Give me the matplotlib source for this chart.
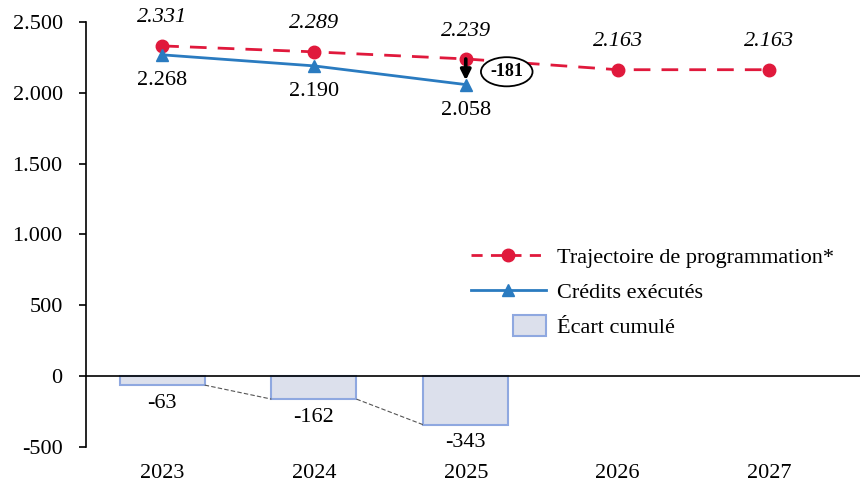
import numpy as np
import matplotlib.pyplot as plt
from matplotlib.ticker import FuncFormatter
from matplotlib.patches import Patch, Rectangle
from matplotlib.lines import Line2D
from matplotlib.legend_handler import HandlerPatch

plt.rcParams['font.family'] = ['Liberation Serif', 'DejaVu Serif']

years = ['2023', '2024', '2025', '2026', '2027']
trajectoire = [2331, 2289, 2239, 2163, 2163]
credits = [2268, 2190, 2058]
ecart = [-63, -162, -343]

RED = '#E0193C'
BLUE = '#2A7BC0'
FS = 16

def fmt(v):
    return f"{v:,.0f}".replace(',', '.')

def square_patch(legend, orig_handle, xdescent, ydescent, width, height, fontsize):
    # small box sitting at the right end of the handle area
    h = height * 1.35
    return Rectangle((width * 0.56 - xdescent, -ydescent - (h - height) / 2), width * 0.44, h)

fig = plt.figure(figsize=(8.63, 4.88), dpi=100)
ax = fig.add_axes([0.1, 0.084, 0.897, 0.871])

x = np.arange(len(years))
xb = x[:len(ecart)]
w = 0.56

ax.bar(xb, ecart, width=w, color='#DCE0EC', edgecolor='#8FA8E0', linewidth=1.5, zorder=2)
for i in range(len(ecart) - 1):
    ax.plot([xb[i] + w / 2, xb[i + 1] - w / 2], [ecart[i], ecart[i + 1]],
            color='#555555', ls=(0, (4, 2)), lw=0.8, zorder=2)
for xi, v in zip(xb, ecart):
    ax.text(xi, v - 60, fmt(v), ha='center', va='top', fontsize=FS)

ax.axhline(0, color='black', lw=1.2, zorder=3)

ax.plot(x, trajectoire, color=RED, ls=(0, (6, 4)), lw=2, marker='o', ms=9, zorder=4)
ax.plot(x[:len(credits)], credits, color=BLUE, lw=2, marker='^', ms=8, zorder=4)

for xi, v in zip(x, trajectoire):
    ax.text(xi, v + 130, fmt(v), ha='center', va='bottom', fontsize=FS, style='italic')
for xi, v in zip(x[:len(credits)], credits):
    ax.text(xi, v - 115, fmt(v), ha='center', va='top', fontsize=FS)

# gap between trajectory and executed credits for the last year
k = len(credits) - 1
ax.annotate('', xy=(x[k], credits[k] + 30), xytext=(x[k], trajectoire[k]),
            arrowprops=dict(arrowstyle='-|>', color='black', lw=2.6, mutation_scale=15,
                            shrinkA=0, shrinkB=0), zorder=5)
ax.text(x[k] + 0.27, (trajectoire[k] + credits[k]) / 2, fmt(credits[k] - trajectoire[k]),
        ha='center', va='center', fontsize=13, fontweight='bold', zorder=6,
        bbox=dict(boxstyle='ellipse,pad=0.1', fc='white', ec='black', lw=1.3))

ax.set_xlim(-0.5, 4.6)
ax.set_ylim(-500, 2500)
ax.set_yticks(range(-500, 2501, 500))
ax.yaxis.set_major_formatter(FuncFormatter(lambda v, p: fmt(v)))
ax.set_xticks(x)
ax.set_xticklabels(years)
ax.tick_params(axis='x', length=0, pad=12, labelsize=FS)
ax.tick_params(axis='y', length=5, direction='out', labelsize=FS, width=1.2, pad=12)
for s in ['top', 'right', 'bottom']:
    ax.spines[s].set_visible(False)
ax.spines['left'].set_linewidth(1.2)

handles = [
    Line2D([], [], color=RED, ls=(0, (4, 3)), lw=2, marker='o', ms=9),
    Line2D([], [], color=BLUE, lw=2, marker='^', ms=8),
    Patch(facecolor='#DCE0EC', edgecolor='#8FA8E0', lw=1.5),
]
labels = ['Trajectoire de programmation*', 'Crédits exécutés', 'Écart cumulé']
ax.legend(handles, labels, loc='upper left', bbox_to_anchor=(0.485, 0.49), frameon=False,
          fontsize=FS, handlelength=3.4, labelspacing=0.65, handletextpad=0.5,
          borderaxespad=0, handler_map={Patch: HandlerPatch(patch_func=square_patch)})

fig.savefig('out.png', dpi=100)
